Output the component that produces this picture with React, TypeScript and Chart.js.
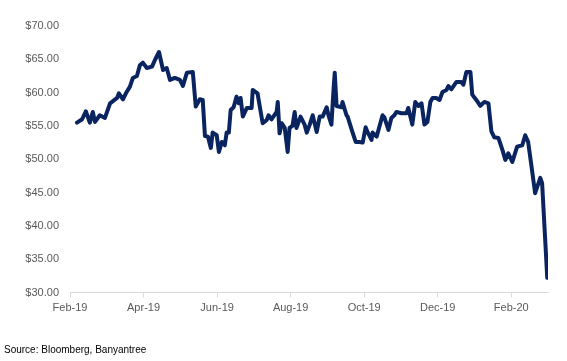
import React, { useEffect, useRef } from "react";
import { Chart, registerables } from "chart.js";

Chart.register(...registerables);

// Fractional months elapsed since 1 Feb 2019
const months: number[] = [
  0.19, 0.33, 0.43, 0.54, 0.62, 0.68, 0.81, 0.95, 1.09, 1.28,
  1.33, 1.44, 1.52, 1.63, 1.71, 1.82, 1.90, 1.98, 2.09, 2.23,
  2.31, 2.42, 2.53, 2.63, 2.72, 2.85, 2.99, 3.07, 3.18, 3.34,
  3.42, 3.53, 3.61, 3.67, 3.75, 3.83, 3.88, 3.99, 4.05, 4.13,
  4.21, 4.26, 4.32, 4.37, 4.45, 4.53, 4.59, 4.64, 4.70, 4.81,
  4.94, 4.97, 5.10, 5.24, 5.35, 5.40, 5.48, 5.62, 5.65, 5.70,
  5.76, 5.84, 5.92, 5.97, 6.05, 6.11, 6.16, 6.27, 6.38, 6.44,
  6.52, 6.60, 6.71, 6.79, 6.87, 6.98, 7.03, 7.11, 7.17, 7.20,
  7.25, 7.39, 7.41, 7.52, 7.55, 7.68, 7.77, 7.87, 7.96, 8.04,
  8.09, 8.20, 8.23, 8.34, 8.50, 8.55, 8.66, 8.74, 8.82, 8.88,
  9.01, 9.15, 9.20, 9.31, 9.39, 9.48, 9.56, 9.64, 9.72, 9.80,
  9.86, 9.96, 10.05, 10.13, 10.24, 10.29, 10.37, 10.51, 10.64, 10.70,
  10.78, 10.89, 10.94, 11.05, 11.16, 11.27, 11.38, 11.46, 11.54, 11.65,
  11.76, 11.84, 11.92, 12.03, 12.16, 12.30, 12.38, 12.46, 12.54, 12.65,
  12.79, 12.84, 12.98,
];

// Price (USD)
const prices: number[] = [
  55.5, 56.0, 57.2, 55.5, 57.1, 55.6, 56.6, 56.2, 58.4, 59.2,
  59.9, 59.0, 59.9, 60.9, 62.2, 62.5, 64.1, 64.5, 63.7, 63.9,
  64.9, 66.1, 63.4, 63.7, 61.9, 62.2, 61.9, 61.0, 63.0, 63.1,
  57.9, 59.0, 58.9, 53.5, 53.4, 51.7, 54.0, 53.6, 51.1, 52.6,
  52.1, 54.0, 54.0, 57.4, 57.8, 59.4, 58.4, 59.2, 56.4, 57.7,
  57.7, 60.4, 59.9, 55.4, 55.9, 56.6, 56.0, 57.1, 58.6, 53.9,
  55.4, 54.7, 51.1, 54.7, 55.0, 57.1, 54.7, 56.4, 55.2, 54.0,
  55.2, 56.6, 54.1, 56.4, 56.4, 57.8, 56.6, 55.2, 60.7, 63.0,
  58.0, 57.8, 58.6, 56.6, 56.4, 54.1, 52.6, 52.6, 52.5, 54.8,
  54.1, 52.9, 54.0, 53.4, 56.6, 56.3, 54.4, 56.2, 56.6, 57.1,
  56.9, 56.9, 57.7, 55.2, 58.6, 58.0, 58.4, 55.2, 55.6, 58.6,
  59.2, 59.2, 58.9, 60.1, 60.4, 61.0, 60.5, 61.6, 61.6, 61.2,
  63.1, 63.1, 59.7, 58.9, 58.0, 58.6, 58.4, 54.2, 53.3, 53.2,
  51.4, 49.9, 50.9, 49.6, 51.9, 52.1, 53.6, 52.6, 49.4, 44.9,
  47.2, 46.4, 32.2,
];

const tickMonths: number[] = [0, 2, 4, 6, 8, 10, 12];
const tickLabels: string[] = ["Feb-19", "Apr-19", "Jun-19", "Aug-19", "Oct-19", "Dec-19", "Feb-20"];
const sourceText = "Source: Bloomberg, Banyantree";

export default function App() {
  const canvasRef = useRef<HTMLCanvasElement | null>(null);

  useEffect(() => {
    if (!canvasRef.current) return;
    const tickFont = { family: "'Liberation Sans', Arial, sans-serif", size: 11 };
    const chart = new Chart(canvasRef.current, {
      type: "line",
      data: {
        datasets: [
          {
            data: months.map((m, i) => ({ x: m, y: prices[i] })),
            borderColor: "#0a245f",
            borderWidth: 4,
            pointRadius: 0,
            tension: 0,
            fill: false,
            borderJoinStyle: "round",
            borderCapStyle: "round",
          },
        ],
      },
      options: {
        responsive: false,
        animation: false,
        devicePixelRatio: 1,
        layout: { padding: { top: 26, right: 19, left: 0, bottom: 0 } },
        plugins: { legend: { display: false }, tooltip: { enabled: false } },
        scales: {
          x: {
            type: "linear",
            min: 0,
            max: 13,
            afterBuildTicks: (scale: any) => {
              scale.ticks = tickMonths.map((v) => ({ value: v }));
            },
            afterFit: (scale: any) => {
              scale.height = 68.5;
            },
            ticks: {
              autoSkip: false,
              maxRotation: 0,
              padding: 4,
              color: "#595959",
              font: tickFont,
              callback: (v: any) => {
                const idx = tickMonths.indexOf(Number(v));
                return idx >= 0 ? tickLabels[idx] : "";
              },
            },
            grid: {
              display: true,
              drawOnChartArea: false,
              drawTicks: true,
              tickLength: 5,
              color: "#d9d9d9",
            },
            border: { display: true, color: "#d9d9d9", width: 1 },
          },
          y: {
            min: 30,
            max: 70,
            afterFit: (scale: any) => {
              scale.width = 70;
            },
            ticks: {
              stepSize: 5,
              padding: 11,
              color: "#595959",
              font: tickFont,
              callback: (v: any) => "$" + Number(v).toFixed(2),
            },
            grid: { display: false, drawTicks: false },
            border: { display: false },
          },
        },
      },
    } as any);
    return () => chart.destroy();
  }, []);

  return (
    <div
      style={{
        position: "fixed",
        left: 0,
        top: 0,
        width: 567,
        height: 361,
        background: "#ffffff",
        overflow: "hidden",
      }}
    >
      <canvas ref={canvasRef} width={567} height={361} style={{ display: "block" }} />
      <div
        style={{
          position: "absolute",
          left: 4,
          top: 344,
          fontFamily: "'Liberation Sans', Arial, sans-serif",
          fontSize: 10,
          lineHeight: "12px",
          color: "#000000",
          whiteSpace: "nowrap",
        }}
      >
        {sourceText}
      </div>
    </div>
  );
}
